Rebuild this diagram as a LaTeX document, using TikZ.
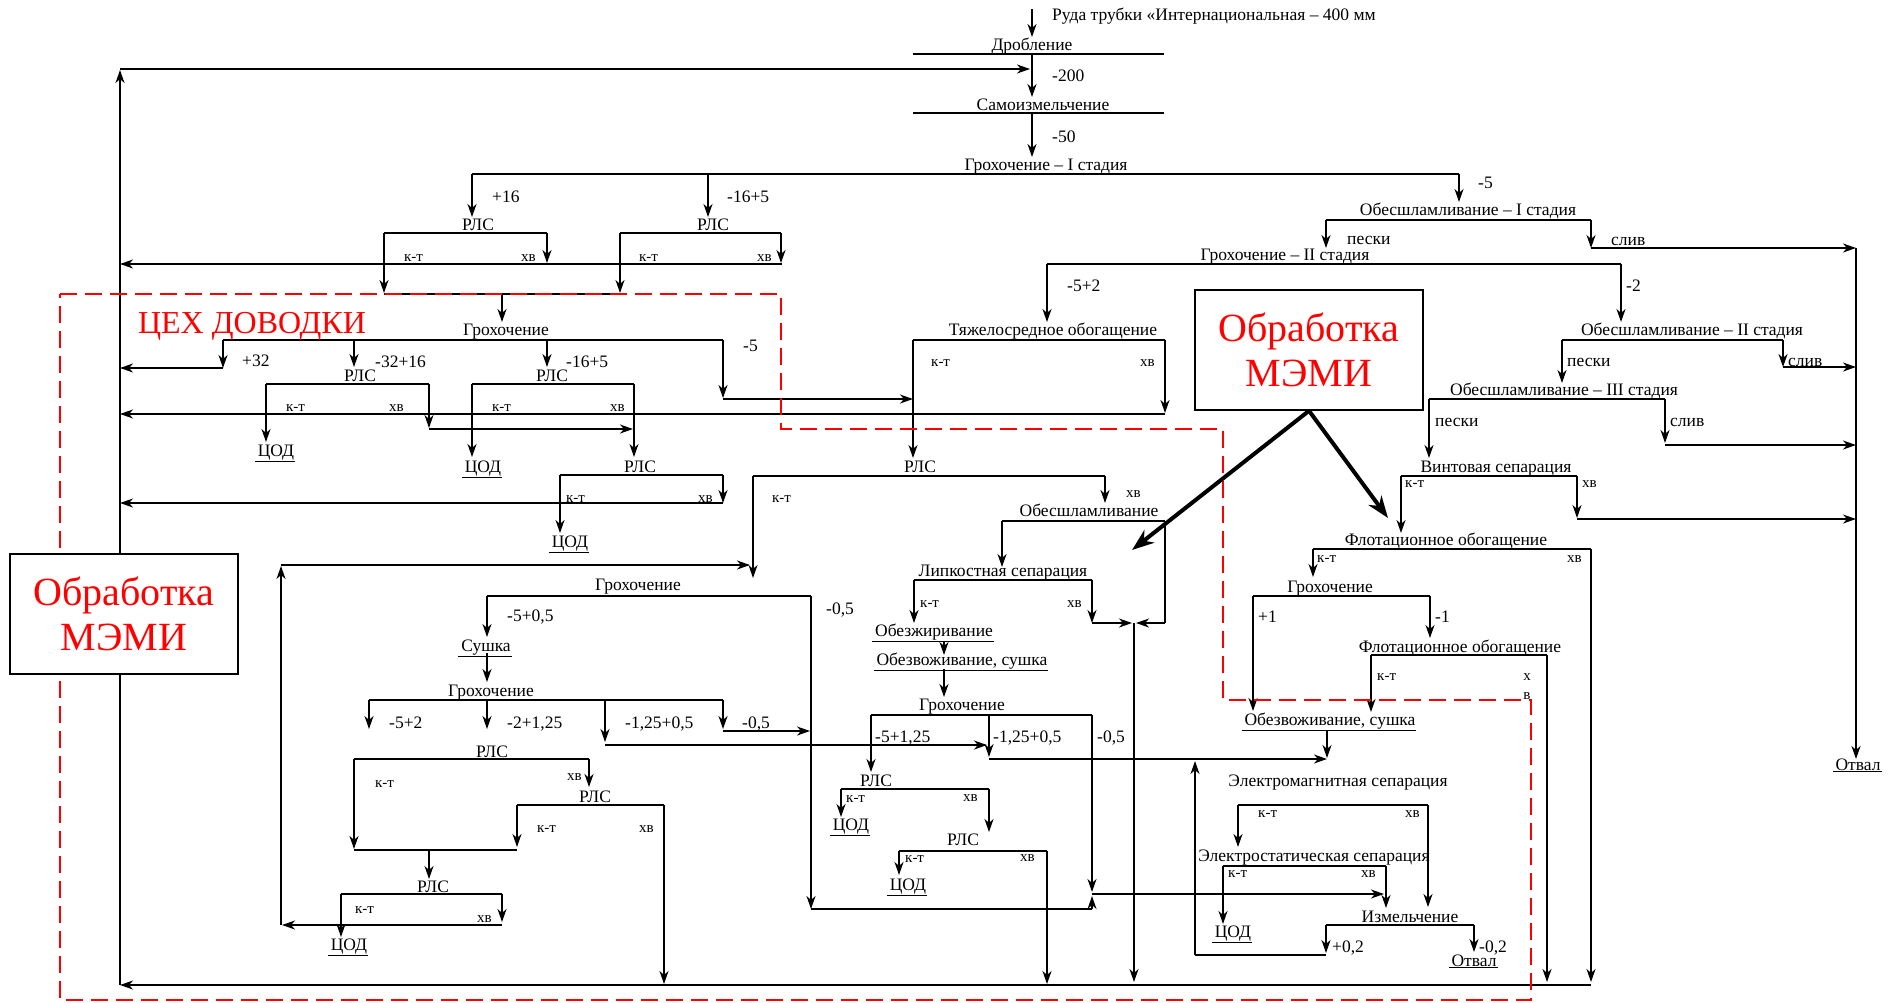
\documentclass[tikz,border=0pt]{standalone}
\usepackage{fontspec}
\setmainfont{Liberation Serif}
\usetikzlibrary{arrows.meta}

\newcommand\stagefont{\fontsize{17.5pt}{19pt}\selectfont}
\newcommand\prodfont{\fontsize{15pt}{17pt}\selectfont}
\newcommand\memifont{\fontsize{40pt}{45pt}\selectfont}
\newcommand\zonefont{\fontsize{32pt}{36pt}\selectfont}
\newcommand\undl[1]{\underline{\hspace{3pt}#1\hspace{1pt}}}

\begin{document}
\begin{tikzpicture}[x=1pt, y=-1pt,
  flow/.style={line width=1.6pt, -{Stealth[length=13pt, width=9pt, inset=4pt]}},
  stagebar/.style={line width=1.6pt},
  stage/.style={inner sep=0pt, anchor=base, font=\stagefont},
  lbl/.style={inner sep=0pt, anchor=base west, font=\stagefont},
  prod/.style={inner sep=0pt, anchor=base west, font=\prodfont},
  memibox/.style={draw, line width=1.6pt, fill=white, inner sep=0pt,
    minimum width=228pt, minimum height=120pt, text=red, font=\memifont, align=center},
  memiarr/.style={line width=4pt, -{Stealth[length=22pt, width=16pt, inset=7pt]}},
  zone/.style={draw=red, line width=2pt, dash pattern=on 17pt off 8pt}
]
\useasboundingbox (0,0) rectangle (1898,1002);

% crushing and screening I
\draw[flow] (1032,9) -- (1032,37);
\node[lbl] (ore) at (1052,20) {Руда трубки «Интернациональная – 400 мм};
\node[stage] (drob) at (1032,50) {Дробление};
\draw[stagebar] (913,54) -- (1164,54);
\draw[flow] (1032,54) -- (1032,97);
\node[lbl] (l200) at (1052,81) {-200};
\node[stage] (samo) at (1043,110) {Самоизмельчение};
\draw[stagebar] (913,113) -- (1164,113);
\draw[flow] (1032,113) -- (1032,157);
\node[lbl] (l50) at (1052,142) {-50};
\node[stage] (groh1) at (1046,170) {Грохочение – I стадия};
\draw[stagebar] (472,174) -- (1459,174);
\draw[flow] (472,174) -- (472,217);
\node[lbl] (l16) at (492,202) {+16};
\draw[flow] (708,174) -- (708,217);
\node[lbl] (l165) at (727,202) {-16+5};
\draw[flow] (1459,174) -- (1459,202);
\node[lbl] (l5) at (1478,188) {-5};

% RLS +16 and -16+5
\node[stage] (rls1) at (478,230) {РЛС};
\draw[stagebar] (384,233) -- (547,233);
\draw[flow] (547,233) -- (547,263);
\node[prod] (rls1hv) at (521,261) {хв};
\draw[flow] (384,233) -- (384,293);
\node[prod] (rls1kt) at (404,261) {к-т};
\node[stage] (rls2) at (713,230) {РЛС};
\draw[stagebar] (620,233) -- (781,233);
\draw[flow] (781,233) -- (781,263);
\node[prod] (rls2hv) at (757,261) {хв};
\draw[flow] (620,233) -- (620,293);
\node[prod] (rls2kt) at (639,261) {к-т};
\draw[flow] (782,264) -- (120,264);

% finishing plant, upper part
\draw[stagebar] (384,294) -- (620,294);
\draw[flow] (502,294) -- (502,322);
\node[stage] (groh3) at (506,335) {Грохочение};
\draw[stagebar] (223,340) -- (723,340);
\draw[flow] (223,340) -- (223,368);
\draw[flow] (223,368) -- (120,368);
\node[lbl] (l32) at (242,366) {+32};
\draw[flow] (354,340) -- (354,367);
\node[lbl] (l3216) at (375,367) {-32+16};
\node[stage] (rls3) at (360,381) {РЛС};
\draw[flow] (547,340) -- (547,367);
\node[lbl] (l165b) at (566,367) {-16+5};
\node[stage] (rls4) at (552,381) {РЛС};
\draw[flow] (723,340) -- (723,398);
\node[lbl] (l5b) at (743,351) {-5};
\draw[flow] (723,399) -- (913,399);

\draw[stagebar] (266,384) -- (429,384);
\draw[flow] (266,384) -- (266,442);
\node[prod] (rls3kt) at (286,411) {к-т};
\node[stage] (cod1) at (275,456) {\undl{ЦОД}};
\draw[flow] (429,384) -- (429,428);
\node[prod] (rls3hv) at (389,411) {хв};
\draw[flow] (429,429) -- (633,429);
\draw[flow] (1165,414) -- (120,414);

\draw[stagebar] (472,384) -- (634,384);
\draw[flow] (472,384) -- (472,457);
\node[prod] (rls4kt) at (492,411) {к-т};
\node[stage] (cod2) at (482,472) {\undl{ЦОД}};
\draw[flow] (634,384) -- (634,457);
\node[prod] (rls4hv) at (610,411) {хв};
\node[stage] (rls5) at (640,472) {РЛС};
\draw[stagebar] (560,475) -- (723,475);
\draw[flow] (723,475) -- (723,503);
\node[prod] (rls5hv) at (698,502) {хв};
\draw[flow] (560,475) -- (560,533);
\node[prod] (rls5kt) at (566,502) {к-т};
\node[stage] (cod3) at (569,547) {\undl{ЦОД}};
\draw[flow] (723,503) -- (120,503);

% heavy media and screening II
\node[stage] (heavy) at (1053,335) {Тяжелосредное обогащение};
\draw[stagebar] (913,340) -- (1165,340);
\draw[flow] (913,340) -- (913,458);
\node[prod] (heavykt) at (931,366) {к-т};
\draw[flow] (1165,340) -- (1165,413);
\node[prod] (heavyhv) at (1140,366) {хв};
\node[stage] (groh2) at (1285,260) {Грохочение – II стадия};
\draw[stagebar] (1047,264) -- (1621,264);
\draw[flow] (1047,264) -- (1047,322);
\node[lbl] (l52) at (1067,291) {-5+2};
\draw[flow] (1621,264) -- (1621,322);
\node[lbl] (l2) at (1626,291) {-2};

% desliming
\node[stage] (desl1) at (1468,215) {Обесшламливание – I стадия};
\draw[stagebar] (1326,220) -- (1591,220);
\draw[flow] (1326,220) -- (1326,248);
\node[lbl] (pes1) at (1347,244) {пески};
\draw[flow] (1591,220) -- (1591,248);
\node[lbl] (sliv1) at (1611,245) {слив};
\draw[flow] (1591,248) -- (1856,248);
\draw[flow] (1856,248) -- (1856,759);
\node[stage] (otv1) at (1857,770) {\undl{Отвал}};
\node[stage] (desl2) at (1692,335) {Обесшламливание – II стадия};
\draw[stagebar] (1562,340) -- (1783,340);
\draw[flow] (1783,340) -- (1783,367);
\node[lbl] (sliv2) at (1788,366) {слив};
\draw[flow] (1783,367) -- (1856,367);
\draw[flow] (1562,340) -- (1562,383);
\node[lbl] (pes2) at (1567,366) {пески};
\node[stage] (desl3) at (1564,395) {Обесшламливание – III стадия};
\draw[stagebar] (1429,399) -- (1665,399);
\draw[flow] (1665,399) -- (1665,443);
\node[lbl] (sliv3) at (1670,426) {слив};
\draw[flow] (1665,445) -- (1856,445);
\draw[flow] (1429,399) -- (1429,458);
\node[lbl] (pes3) at (1435,426) {пески};

% spiral and flotation
\node[stage] (spiral) at (1496,472) {Винтовая сепарация};
\draw[stagebar] (1401,476) -- (1577,476);
\draw[flow] (1577,476) -- (1577,518);
\node[prod] (spiralhv) at (1582,487) {хв};
\draw[flow] (1577,519) -- (1856,519);
\draw[flow] (1401,476) -- (1401,533);
\node[prod] (spiralkt) at (1405,487) {к-т};
\node[stage] (flot1) at (1446,545) {Флотационное обогащение};
\draw[stagebar] (1313,549) -- (1591,549);
\draw[flow] (1591,549) -- (1591,982);
\node[prod] (flot1hv) at (1567,562) {хв};
\draw[flow] (1313,549) -- (1313,577);
\node[prod] (flot1kt) at (1317,562) {к-т};
\node[stage] (groh6) at (1330,592) {Грохочение};
\draw[stagebar] (1253,596) -- (1430,596);
\draw[flow] (1430,596) -- (1430,638);
\node[lbl] (l1m) at (1435,622) {-1};
\draw[flow] (1253,596) -- (1253,711);
\node[lbl] (l1p) at (1258,622) {+1};
\node[stage] (flot2) at (1460,652) {Флотационное обогащение};
\draw[stagebar] (1371,655) -- (1547,655);
\draw[flow] (1547,655) -- (1547,982);
\node[prod, anchor=base] (flot2h) at (1527,680) {х};
\node[prod, anchor=base] (flot2v) at (1527,699) {в};
\draw[flow] (1371,655) -- (1371,712);
\node[prod] (flot2kt) at (1377,680) {к-т};
\node[stage] (dry2) at (1329,725) {\undl{Обезвоживание, сушка}};
\draw[flow] (1327,731) -- (1327,758);

% electric separation and grinding
\draw[flow] (989,759) -- (1327,759);
\node[stage] (emag) at (1338,786) {Электромагнитная сепарация};
\draw[stagebar] (1238,805) -- (1428,805);
\draw[flow] (1238,805) -- (1238,847);
\node[prod] (emagkt) at (1258,817) {к-т};
\draw[flow] (1428,805) -- (1428,907);
\node[prod] (emaghv) at (1405,817) {хв};
\node[stage] (estat) at (1314,861) {Электростатическая сепарация};
\draw[stagebar] (1223,866) -- (1386,866);
\draw[flow] (1223,866) -- (1223,924);
\node[prod] (estatkt) at (1228,877) {к-т};
\node[stage] (cod8) at (1232,937) {\undl{ЦОД}};
\draw[flow] (1386,866) -- (1386,908);
\node[prod] (estathv) at (1361,877) {хв};
\node[stage] (grind) at (1410,922) {Измельчение};
\draw[stagebar] (1326,925) -- (1474,925);
\draw[flow] (1474,925) -- (1474,952);
\node[lbl] (l02m) at (1479,952) {-0,2};
\node[stage] (otv2) at (1473,966) {\undl{Отвал}};
\draw[flow] (1326,925) -- (1326,953);
\node[lbl] (l02p) at (1332,952) {+0,2};
\draw[stagebar] (1326,955) -- (1195,955);
\draw[flow] (1195,955) -- (1195,761);

% middle column
\node[stage] (rls6) at (920,472) {РЛС};
\draw[stagebar] (753,476) -- (1105,476);
\draw[flow] (1105,476) -- (1105,503);
\node[prod] (rls6hv) at (1126,497) {хв};
\draw[flow] (753,476) -- (753,578);
\node[prod] (rls6kt) at (772,502) {к-т};
\node[stage] (desl4) at (1089,516) {Обесшламливание};
\draw[stagebar] (1002,521) -- (1165,521);
\draw[flow] (1002,521) -- (1002,567);
\draw[stagebar] (1165,521) -- (1165,623);
\draw[flow] (1165,623) -- (1136,623);
\node[stage] (stick) at (1003,576) {Липкостная сепарация};
\draw[stagebar] (914,580) -- (1092,580);
\draw[flow] (1092,580) -- (1092,623);
\node[prod] (stickhv) at (1067,607) {хв};
\draw[flow] (1092,623) -- (1132,623);
\draw[flow] (1134,623) -- (1134,982);
\draw[flow] (914,580) -- (914,623);
\node[prod] (stickkt) at (920,607) {к-т};
\node[stage] (degr) at (933,636) {\undl{Обезжиривание}};
\draw[flow] (944,641) -- (944,655);
\node[stage] (dry1) at (961,665) {\undl{Обезвоживание, сушка}};
\draw[flow] (944,669) -- (944,697);
\node[stage] (groh5) at (962,710) {Грохочение};
\draw[stagebar] (871,715) -- (1092,715);
\draw[flow] (1092,715) -- (1092,892);
\node[lbl] (l05c) at (1097,742) {-0,5};
\draw[flow] (989,715) -- (989,757);
\node[lbl] (l125c) at (993,742) {-1,25+0,5};
\draw[flow] (871,715) -- (871,772);
\node[lbl] (l5125) at (875,742) {-5+1,25};
\node[stage] (rls7) at (876,786) {РЛС};
\draw[stagebar] (841,789) -- (989,789);
\draw[flow] (989,789) -- (989,832);
\node[prod] (rls7hv) at (963,801) {хв};
\draw[flow] (841,789) -- (841,817);
\node[prod] (rls7kt) at (846,802) {к-т};
\node[stage] (cod6) at (850,830) {\undl{ЦОД}};
\node[stage] (rls8) at (963,845) {РЛС};
\draw[stagebar] (899,851) -- (1047,851);
\draw[flow] (1047,851) -- (1047,984);
\node[prod] (rls8hv) at (1020,861) {хв};
\draw[flow] (899,851) -- (899,875);
\node[prod] (rls8kt) at (905,862) {к-т};
\node[stage] (cod7) at (907,890) {\undl{ЦОД}};

% finishing plant, lower part
\draw[flow] (281,925) -- (281,566);
\draw[flow] (281,565) -- (750,565);
\node[stage] (groh4) at (638,590) {Грохочение};
\draw[stagebar] (487,596) -- (811,596);
\draw[flow] (811,596) -- (811,909);
\node[lbl] (l05a) at (826,614) {-0,5};
\draw[stagebar] (811,909) -- (1092,909);
\draw[flow] (1092,909) -- (1092,896);
\draw[flow] (1092,894) -- (1384,894);
\draw[flow] (487,596) -- (487,637);
\node[lbl] (l505) at (507,621) {-5+0,5};
\node[stage] (dry0) at (485,651) {\undl{Сушка}};
\draw[flow] (487,653) -- (487,682);
\node[stage] (groh7) at (491,696) {Грохочение};
\draw[stagebar] (369,700) -- (723,700);
\draw[flow] (369,700) -- (369,729);
\node[lbl] (l52b) at (389,728) {-5+2};
\draw[flow] (487,700) -- (487,729);
\node[lbl] (l2125) at (507,728) {-2+1,25};
\draw[flow] (605,700) -- (605,742);
\draw[flow] (605,745) -- (987,745);
\node[lbl] (l125b) at (625,728) {-1,25+0,5};
\draw[flow] (723,700) -- (723,729);
\node[lbl] (l05b) at (742,728) {-0,5};
\draw[flow] (723,731) -- (810,731);

\node[stage] (rls9) at (492,757) {РЛС};
\draw[stagebar] (354,759) -- (589,759);
\draw[flow] (589,759) -- (589,787);
\node[prod] (rls9hv) at (567,780) {хв};
\draw[flow] (354,759) -- (354,849);
\node[prod] (rls9kt) at (375,787) {к-т};
\node[stage] (rls10) at (595,802) {РЛС};
\draw[stagebar] (517,805) -- (664,805);
\draw[flow] (664,805) -- (664,984);
\node[prod] (rls10hv) at (639,832) {хв};
\draw[flow] (517,805) -- (517,847);
\node[prod] (rls10kt) at (537,832) {к-т};
\draw[stagebar] (354,850) -- (517,850);
\draw[flow] (429,850) -- (429,879);
\node[stage] (rls11) at (433,892) {РЛС};
\draw[stagebar] (341,894) -- (502,894);
\draw[flow] (502,894) -- (502,922);
\node[prod] (rls11hv) at (477,922) {хв};
\draw[flow] (502,925) -- (282,925);
\draw[flow] (341,894) -- (341,937);
\node[prod] (rls11kt) at (355,913) {к-т};
\node[stage] (cod5) at (348,950) {\undl{ЦОД}};

% return lines
\draw[flow] (1591,985) -- (120,985);
\draw[flow] (120,985) -- (120,70);
\draw[flow] (120,69) -- (1030,69);

% finishing plant boundary
\draw[zone] (60,294) -- (781,294) -- (781,429) -- (1223,429) -- (1223,700)
  -- (1531,700) -- (1531,1000) -- (60,1000) -- cycle;
\node[text=red, font=\zonefont, inner sep=0pt, anchor=base] (zone) at (252,333) {ЦЕХ ДОВОДКИ};

% MEMI boxes
\node[memibox] (memi1) at (1309,350) {Обработка\\МЭМИ};
\node[memibox] (memi2) at (124,614) {Обработка\\МЭМИ};
\draw[memiarr] (memi1.south) -- (1388,518);
\draw[memiarr] (memi1.south) -- (1132,550);
\end{tikzpicture}
\end{document}
